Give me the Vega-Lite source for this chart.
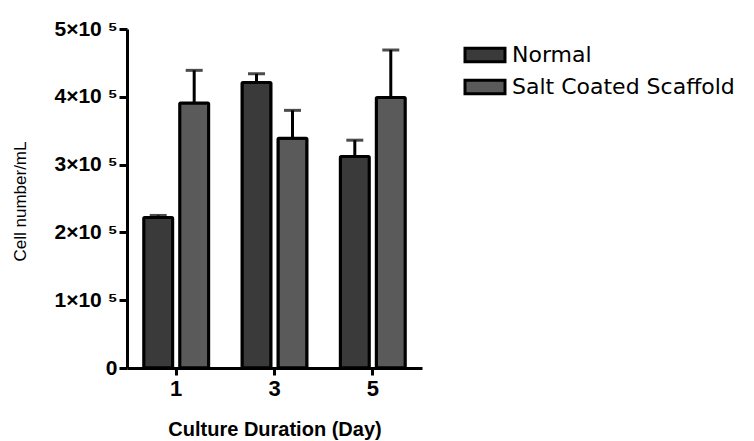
{
  "$schema": "https://vega.github.io/schema/vega-lite/v6.json",
  "autosize": "none",
  "width": 295,
  "height": 339,
  "padding": {"left": 127, "top": 29, "right": 332, "bottom": 73},
  "background": "white",
  "config": {
    "view": {"stroke": null},
    "font": "Liberation Sans"
  },
  "data": {
    "values": [
      {"day": "1", "group": "Normal", "value": 222000, "upper": 225000},
      {"day": "1", "group": "Salt Coated Scaffold", "value": 391000, "upper": 439000},
      {"day": "3", "group": "Normal", "value": 421000, "upper": 434000},
      {"day": "3", "group": "Salt Coated Scaffold", "value": 339000, "upper": 380000},
      {"day": "5", "group": "Normal", "value": 312000, "upper": 336000},
      {"day": "5", "group": "Salt Coated Scaffold", "value": 399000, "upper": 469000}
    ]
  },
  "encoding": {
    "x": {
      "field": "day", "type": "nominal",
      "scale": {"paddingInner": 0.339, "paddingOuter": 0.17},
      "axis": {
        "title": "Culture Duration (Day)", "titleFont": "Liberation Sans", "titleFontWeight": "bold", "titleFontSize": 20,
        "titleColor": "black", "titlePadding": 20,
        "labelAngle": 0, "labelFont": "Liberation Sans", "labelFontWeight": "bold", "labelFontSize": 22, "labelColor": "black", "labelPadding": 3,
        "domainColor": "black", "domainWidth": 3, "tickColor": "black", "tickWidth": 3, "tickSize": 7, "grid": false
      }
    },
    "xOffset": {"field": "group", "type": "nominal", "scale": {"paddingInner": 0.194, "paddingOuter": 0}},
    "y": {
      "field": "value", "type": "quantitative",
      "scale": {"domain": [0, 500000], "nice": false},
      "axis": {
        "title": "Cell number/mL", "titleFont": "Liberation Sans", "titleFontWeight": "normal", "titleFontSize": 17, "titleColor": "black",
        "titleX": -107, "titleY": 172, "titleAngle": -90, "titleAlign": "center", "titleBaseline": "middle",
        "values": [0, 100000, 200000, 300000, 400000, 500000],
        "labelExpr": "datum.value == 0 ? '0' : (datum.value / 100000) + '×10 ⁵'",
        "labelFont": "Liberation Sans", "labelFontWeight": "bold", "labelFontSize": 21, "labelColor": "black", "labelPadding": 2,
        "domainColor": "black", "domainWidth": 3, "tickColor": "black", "tickWidth": 3, "tickSize": 8, "grid": false
      }
    }
  },
  "layer": [
    {
      "mark": {"type": "bar", "stroke": "black", "strokeWidth": 3, "cornerRadius": 1},
      "encoding": {
        "fill": {
          "field": "group", "type": "nominal",
          "scale": {"domain": ["Normal", "Salt Coated Scaffold"], "range": ["#3a3a3a", "#5a5a5a"]},
          "legend": {
            "title": null, "orient": "none", "legendX": 343, "legendY": 11,
            "labelFont": "DejaVu Sans", "labelFontSize": 22, "labelColor": "black", "labelLimit": 400,
            "symbolType": "M-1.5,-0.5 H1.5 V0.5 H-1.5 Z", "symbolSize": 711, "symbolStrokeColor": "black", "symbolStrokeWidth": 3,
            "rowPadding": 4, "labelOffset": 12
          }
        }
      }
    },
    {
      "mark": {"type": "rule", "color": "black", "strokeWidth": 3},
      "encoding": {
        "y2": {"field": "upper"}
      }
    },
    {
      "mark": {"type": "tick", "color": "black", "thickness": 3, "size": 17, "orient": "horizontal"},
      "encoding": {
        "y": {
          "field": "upper", "type": "quantitative",
          "scale": {"domain": [0, 500000], "nice": false},
          "axis": {
            "title": "Cell number/mL", "titleFont": "Liberation Sans", "titleFontWeight": "normal", "titleFontSize": 17, "titleColor": "black",
            "titleX": -107, "titleY": 172, "titleAngle": -90, "titleAlign": "center", "titleBaseline": "middle",
            "values": [0, 100000, 200000, 300000, 400000, 500000],
            "labelExpr": "datum.value == 0 ? '0' : (datum.value / 100000) + '×10 ⁵'",
            "labelFont": "Liberation Sans", "labelFontWeight": "bold", "labelFontSize": 21, "labelColor": "black", "labelPadding": 2,
            "domainColor": "black", "domainWidth": 3, "tickColor": "black", "tickWidth": 3, "tickSize": 8, "grid": false
          }
        }
      }
    }
  ]
}
